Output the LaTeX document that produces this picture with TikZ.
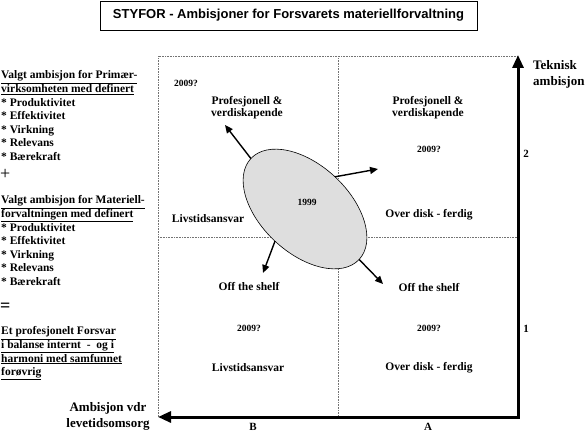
\documentclass[tikz,border=0pt]{standalone}
\usepackage{fontspec}
\setmainfont{Liberation Serif}
\newfontfamily\titlefont{Liberation Sans}
\usetikzlibrary{arrows.meta,shapes.geometric}

\tikzset{
  lbl/.style={font=\bfseries\fontsize{11.5}{12.5}\selectfont, align=center, inner sep=0pt},
  yr/.style={font=\bfseries\fontsize{9.5}{11}\selectfont, inner sep=0pt},
  side/.style={font=\bfseries\fontsize{11.5}{13.6}\selectfont, align=left, anchor=north west, inner sep=0pt},
  axlbl/.style={font=\bfseries\fontsize{13}{16}\selectfont, inner sep=0pt},
  grid/.style={densely dotted, black!55, line width=0.6pt},
  push/.style={line width=1.4pt, -{Triangle[length=8pt,width=7pt]}}
}

\begin{document}
\begin{tikzpicture}[x=1pt,y=1pt]
\useasboundingbox (0,0) rectangle (585,432);

\node[draw, line width=0.7pt, minimum width=377pt, minimum height=29pt, inner sep=0pt,
  font=\titlefont\bfseries\fontsize{13}{15}\selectfont] (title) at (288.5,416.5)
  {STYFOR - Ambisjoner for Forsvarets materiellforvaltning};

% the field
\coordinate (o) at (518,15);
\coordinate (xend) at (158,15);
\coordinate (yend) at (518,377);
\coordinate (tl) at (158,376);
\coordinate (tr) at (518,376);
\coordinate (mt) at (338,376);
\coordinate (mb) at (338,15);
\coordinate (ml) at (158,195);
\coordinate (mr) at (518,195);
\draw[grid] (xend)--(tl)--(tr);
\draw[grid] (mb)--(mt);
\draw[grid] (ml)--(mr);
\draw[line width=3pt, {Triangle[length=13pt,width=11pt]}-{Triangle[length=13pt,width=11pt]}] (xend)--(o)--(yend);

\node[axlbl, anchor=west, align=left] (tek) at (533,357.5) {Teknisk\\ambisjon};
\node[axlbl, align=center] (lev) at (108,16) {Ambisjon vdr\\levetidsomsorg};
\node[yr, font=\bfseries\fontsize{11}{12}\selectfont] (b) at (253,5) {B};
\node[yr, font=\bfseries\fontsize{11}{12}\selectfont] (a) at (428,5) {A};
\node[yr, font=\bfseries\fontsize{11}{12}\selectfont] (two) at (526,278) {2};
\node[yr, font=\bfseries\fontsize{11}{12}\selectfont] (one) at (526,103) {1};

% quadrant texts
\node[yr] (yUL) at (186,349) {2009?};
\node[lbl] (profL) at (247,324.5) {Profesjonell \&\\verdiskapende};
\node[lbl] (livUL) at (208,213) {Livstidsansvar};
\node[lbl] (profR) at (428,324.5) {Profesjonell \&\\verdiskapende};
\node[yr] (yUR) at (429,283) {2009?};
\node[lbl] (overUR) at (429,217) {Over disk - ferdig};
\node[lbl] (offL) at (249,145) {Off the shelf};
\node[yr] (yLL) at (249,104) {2009?};
\node[lbl] (livLL) at (248,64) {Livstidsansvar};
\node[lbl] (offR) at (429,144) {Off the shelf};
\node[yr] (yLR) at (429,104) {2009?};
\node[lbl] (overLR) at (429,64) {Over disk - ferdig};

% today
\node[ellipse, draw, line width=0.6pt, fill=black!13, minimum width=148pt, minimum height=88pt,
  inner sep=0pt, outer sep=0pt, rotate=-43] (ell) at (305,223) {};
\node[yr] (now) at (307,230) {1999};
\coordinate (pUL) at (225,307);
\coordinate (pUR) at (378,263);
\coordinate (pLL) at (263,159);
\coordinate (pLR) at (383,148);
\draw[push] (ell.west)--(pUL);
\draw[push] (ell.north)--(pUR);
\draw[push] (ell.south)--(pLL);
\draw[push] (ell.east)--(pLR);

% left column
\node[side] (prim) at (1,361.4) {\underline{Valgt ambisjon for Primær-}\\\underline{virksomheten med definert}\\
  * Produktivitet\\* Effektivitet\\* Virkning\\* Relevans\\* Bærekraft};
\node[anchor=west, inner sep=0pt, font=\fontsize{18}{20}\selectfont] (plus) at (0,258) {+};
\node[side] (mat) at (1,236.4) {\underline{Valgt ambisjon for Materiell-}\\\underline{forvaltningen med definert}\\
  * Produktivitet\\* Effektivitet\\* Virkning\\* Relevans\\* Bærekraft};
\node[anchor=west, inner sep=0pt, font=\bfseries\fontsize{18}{20}\selectfont] (eq) at (0,125) {=};
\node[side] (res) at (1,105.4) {\underline{Et profesjonelt Forsvar}\\\underline{i balanse internt\ \ -\ \ og i}\\
  \underline{harmoni med samfunnet}\\\underline{forøvrig}};
\end{tikzpicture}
\end{document}
